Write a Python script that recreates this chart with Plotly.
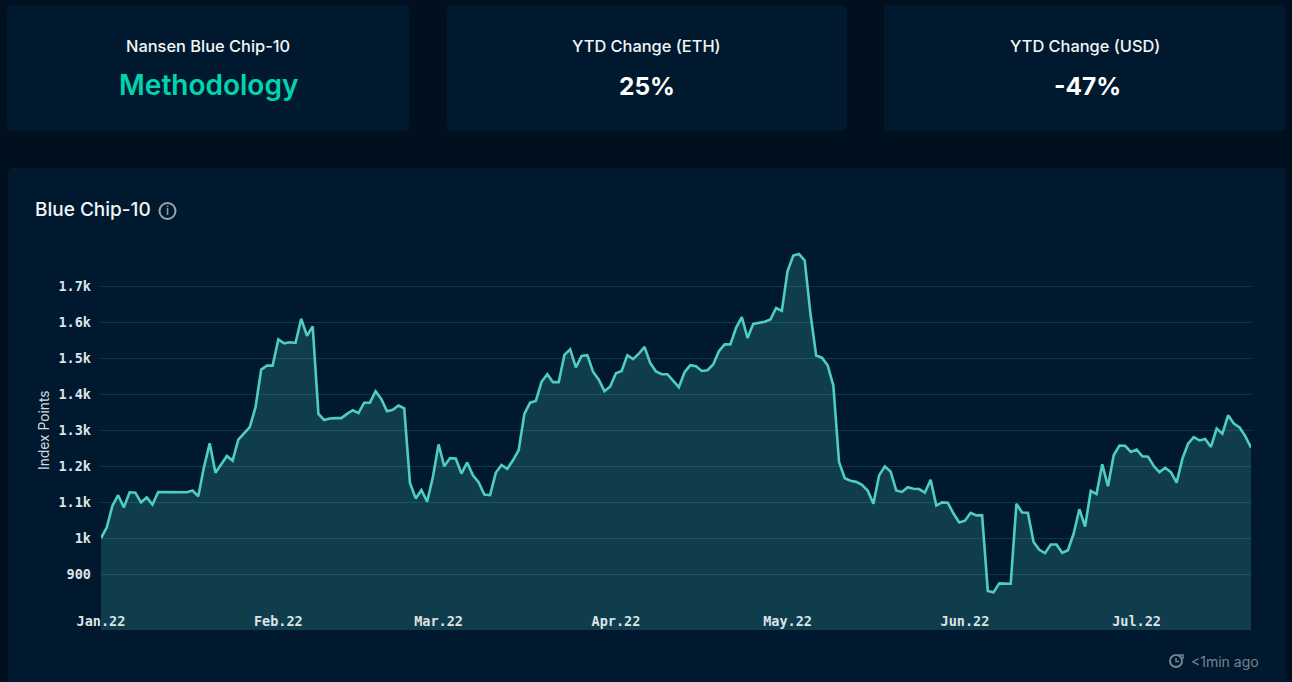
import pandas as pd
import plotly.graph_objects as go

W, H = 1292, 682

# daily index points, Jan 1 to Jul 21 2022
index_points = [
    1000, 1029, 1090, 1119, 1085, 1127, 1126, 1099, 1113, 1093,
    1128, 1128, 1128, 1127, 1127, 1127, 1132, 1116, 1197, 1263,
    1181, 1204, 1228, 1215, 1273, 1291, 1308, 1363, 1468, 1479,
    1479, 1552, 1541, 1544, 1542, 1609, 1562, 1588, 1345, 1328,
    1332, 1333, 1333, 1345, 1355, 1347, 1376, 1376, 1408, 1386,
    1352, 1356, 1368, 1360, 1153, 1110, 1133, 1101, 1169, 1260,
    1199, 1222, 1221, 1179, 1210, 1174, 1155, 1121, 1119, 1181,
    1203, 1192, 1216, 1244, 1345, 1376, 1381, 1434, 1455, 1433,
    1433, 1509, 1524, 1474, 1506, 1508, 1462, 1440, 1408, 1421,
    1458, 1464, 1508, 1497, 1512, 1531, 1486, 1463, 1455, 1455,
    1437, 1419, 1461, 1480, 1477, 1464, 1466, 1482, 1519, 1538,
    1538, 1584, 1614, 1556, 1595, 1597, 1601, 1607, 1639, 1631,
    1742, 1785, 1789, 1771, 1623, 1507, 1501, 1480, 1424, 1211,
    1166, 1159, 1156, 1148, 1132, 1095, 1174, 1199, 1185, 1132,
    1128, 1141, 1137, 1136, 1126, 1162, 1090, 1099, 1098, 1068,
    1043, 1048, 1070, 1063, 1063, 853, 849, 874, 874, 873,
    1095, 1071, 1070, 989, 967, 958, 982, 982, 959, 966,
    1012, 1080, 1032, 1131, 1122, 1205, 1144, 1230, 1257, 1256,
    1239, 1246, 1227, 1226, 1200, 1183, 1195, 1183, 1154, 1220,
    1262, 1280, 1271, 1275, 1253, 1304, 1290, 1341, 1318, 1307,
    1283, 1251,
]
dates = pd.date_range("2022-01-01", periods=len(index_points), freq="D")

y_ticks = [900, 1000, 1100, 1200, 1300, 1400, 1500, 1600, 1700]
y_labels = ["900", "1k", "1.1k", "1.2k", "1.3k", "1.4k", "1.5k", "1.6k", "1.7k"]
x_ticks = ["2022-01-01", "2022-02-01", "2022-03-01", "2022-04-01",
           "2022-05-01", "2022-06-01", "2022-07-01"]
x_labels = ["Jan.22", "Feb.22", "Mar.22", "Apr.22", "May.22", "Jun.22", "Jul.22"]

PAGE = "#01101e"
CARD = "#00192f"
LINE = "#4ecdc4"
MONO = "DejaVu Sans Mono"
SANS = "Inter"


def px(x):
    return x / W


def py(y):
    return 1 - y / H


def card(x0, y0, x1, y1, r=5):
    path = (
        f"M {px(x0 + r)} {py(y0)} L {px(x1 - r)} {py(y0)} Q {px(x1)} {py(y0)} {px(x1)} {py(y0 + r)} "
        f"L {px(x1)} {py(y1 - r)} Q {px(x1)} {py(y1)} {px(x1 - r)} {py(y1)} "
        f"L {px(x0 + r)} {py(y1)} Q {px(x0)} {py(y1)} {px(x0)} {py(y1 - r)} "
        f"L {px(x0)} {py(y0 + r)} Q {px(x0)} {py(y0)} {px(x0 + r)} {py(y0)} Z"
    )
    return dict(type="path", path=path, xref="paper", yref="paper", layer="below",
                fillcolor=CARD, line=dict(width=0))


def ring(cx, cy, r, color, width=1.5):
    return dict(type="circle", xref="paper", yref="paper", layer="above",
                x0=px(cx - r), x1=px(cx + r), y0=py(cy + r), y1=py(cy - r),
                line=dict(color=color, width=width), fillcolor="rgba(0,0,0,0)")


def stroke(points, color, width=1.5):
    path = "M " + " L ".join(f"{px(x)} {py(y)}" for x, y in points)
    return dict(type="path", path=path, xref="paper", yref="paper", layer="above",
                line=dict(color=color, width=width))


def label(x, y, text, size, color="#f2f5f7", weight=500, xanchor="center", font=SANS):
    return dict(x=px(x), y=py(y), xref="paper", yref="paper", text=text, showarrow=False,
                xanchor=xanchor, yanchor="middle",
                font=dict(family=font, size=size, color=color, weight=weight))


fig = go.Figure()

fig.add_trace(go.Scatter(
    x=dates, y=index_points, mode="lines", fill="tozeroy",
    fillcolor="rgba(78,205,196,0.2)",
    line=dict(color=LINE, width=2.6, shape="linear"),
    hoverinfo="skip",
))

shapes = [
    card(7, 5, 409, 131),
    card(447, 5, 847, 131),
    card(884, 5, 1286, 131),
    card(8, 168, 1286, 700),
    ring(167.5, 211, 8, "#9aa5af", 2),
    ring(1176, 661, 6, "#77838d", 2),
    stroke([(1176, 658), (1176, 661.5), (1179, 661.5)], "#77838d"),
    stroke([(1179, 655), (1183, 655), (1183, 659)], "#77838d"),
]

annotations = [
    label(208, 46, "Nansen Blue Chip-10", 16.4),
    label(208, 85, "Methodology", 28, color="#00d4ae", weight=600),
    label(646, 46, "YTD Change (ETH)", 16.4),
    label(647, 86, "25%", 24.5, color="#ffffff", weight=700),
    label(1085, 46, "YTD Change (USD)", 16.4),
    label(1087, 86, "-47%", 24.5, color="#ffffff", weight=700),
    label(33, 210, "Blue Chip-10", 19, xanchor="left"),
    label(167.5, 211, "i", 12, color="#9aa5af"),
    label(1189, 661, "&lt;1min ago", 14, color="#77838d", weight=400, xanchor="left"),
    label(44, 430, "Index Points", 13.8, color="#d5dade", weight=400),
]
annotations[-1]["textangle"] = -90

fig.update_layout(
    width=W,
    height=H,
    margin=dict(l=0, r=0, t=0, b=0, autoexpand=False),
    paper_bgcolor=PAGE,
    plot_bgcolor="rgba(0,0,0,0)",
    showlegend=False,
    shapes=shapes,
    annotations=annotations,
    xaxis=dict(
        domain=[px(101), px(1251)],
        range=[dates[0], dates[-1]],
        tickvals=x_ticks,
        ticktext=x_labels,
        ticklabelposition="inside",
        ticklabeloverflow="allow",
        ticklabelstandoff=-2,
        tickangle=0,
        ticks="",
        showgrid=False,
        zeroline=False,
        showline=False,
        tickfont=dict(family=MONO, size=13.5, color="#dfe3e6", weight=700),
    ),
    yaxis=dict(
        domain=[py(630), py(240)],
        range=[744.4, 1828],
        tickvals=y_ticks,
        ticktext=y_labels,
        ticks="",
        ticklabelstandoff=9,
        showgrid=True,
        gridcolor="#11364a",
        gridwidth=1,
        zeroline=False,
        showline=False,
        tickfont=dict(family=MONO, size=13.5, color="#dfe3e6", weight=700),
    ),
)

fig.write_html("out.html", config=dict(displayModeBar=False),
               post_script="document.body.style.margin='0';document.body.style.background='#01101e';")
